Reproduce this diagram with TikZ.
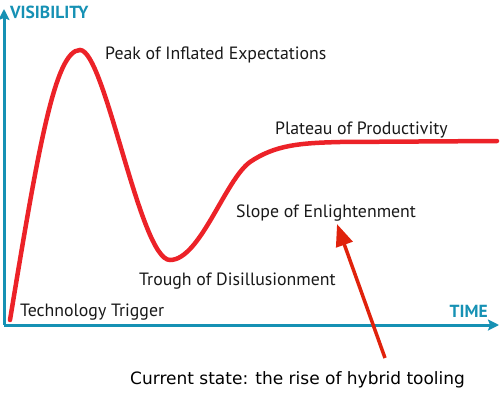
\documentclass[tikz,border=0pt]{standalone}
\usepackage{fontspec}
\setmainfont{PT Sans}
\newfontfamily\notefont{DejaVu Sans}
\usetikzlibrary{arrows.meta, positioning}
\definecolor{axisblue}{RGB}{22,145,180}
\definecolor{hypered}{RGB}{236,34,40}
\definecolor{pointred}{RGB}{224,34,12}

\begin{document}
\begin{tikzpicture}[
  x=1pt, y=-1pt,
  font=\fontsize{17.8}{20}\selectfont,
  axis/.style={draw=axisblue, line width=3pt, -{Stealth[length=11pt, width=11pt, inset=2pt]}},
  axlbl/.style={text=axisblue, font=\fontsize{17.5}{20}\selectfont\bfseries, inner sep=0pt},
  phase/.style={inner sep=0pt, anchor=base west, text=black!90},
  hype/.style={draw=hypered, line width=4.5pt, line cap=round},
  pointer/.style={draw=pointred, line width=3.5pt, -{Triangle[length=22pt, width=17pt]}},
]
\useasboundingbox (0,0) rectangle (500,393);
% ---- axes
\coordinate (origin) at (4,325);
\coordinate (ytop) at (4,9);
\coordinate (xend) at (499,325);
\draw[axis] (origin) -- (ytop);
\draw[axis] (origin) -- (xend);
\node[axlbl, anchor=base west] (vis) at (10,19) {VISIBILITY};
\node[axlbl, anchor=base east] (time) at (488,317) {TIME};

% ---- curve
\draw[hype] (10,320) .. controls (38,150) and (55,50) .. (80,50)
  .. controls (105,50) and (140,260) .. (170,260)
  .. controls (200,260) and (225,180) .. (250,162)
  .. controls (275,145) and (300,143) .. (340,142) -- (497,141);

% ---- phases
\node[phase] (trigger) at (20,316) {Technology Trigger};
\node[phase] (peak) at (105,60) {Peak of Inflated Expectations};
\node[phase] (trough) at (139,285) {Trough of Disillusionment};
\node[phase] (slope) at (236,217) {Slope of Enlightenment};
\node[phase] (plateau) at (275,135) {Plateau of Productivity};

% ---- current state
\node[inner sep=0pt, anchor=base west, font=\notefont\fontsize{17}{20}\selectfont] (note) at (130,384) {Current state: the rise of hybrid tooling};
\coordinate (tail) at (385,358);
\coordinate (head) at (337,224);
\draw[pointer] (tail) -- (head);
\end{tikzpicture}
\end{document}
